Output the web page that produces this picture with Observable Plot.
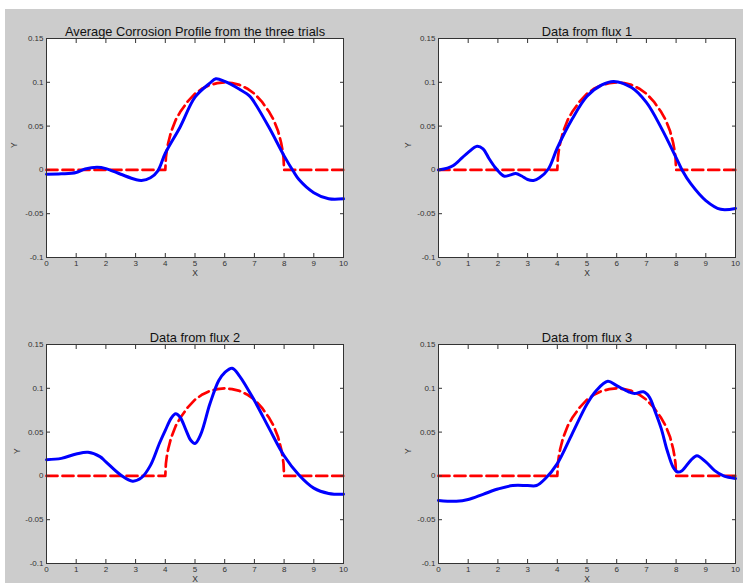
<!DOCTYPE html>
<html><head><meta charset="utf-8">
<script src="https://cdn.jsdelivr.net/npm/d3@7"></script>
<script src="https://cdn.jsdelivr.net/npm/@observablehq/plot@0.6"></script>
<style>
body{margin:0;background:#fff;}
#fig{position:relative;width:743px;height:583px;background:#fff;overflow:hidden;font-family:"Liberation Sans",Arial,sans-serif;}
#bg{position:absolute;left:5px;top:9px;right:0;bottom:0;background:#cccccc;}
.panel{position:absolute;}
.panel svg{background:transparent !important;overflow:visible;}
</style></head><body><div id="fig"><div id="bg"></div></div>
<script>
const xTicks = [0,1,2,3,4,5,6,7,8,9,10];
const yTicks = [-0.1,-0.05,0,0.05,0.1,0.15];
const titles = ["Average Corrosion Profile from the three trials","Data from flux 1","Data from flux 2","Data from flux 3"];
const xLabel = "X";
const yLabel = "Y";

// red dashed reference profile
const redX = [0,4,4.02,4.05,4.1,4.2,4.35,4.5,4.75,5,5.25,5.5,5.75,6,6.25,6.5,6.75,7,7.25,7.5,7.65,7.8,7.9,7.95,7.98,8,10];
const redY = [0,0,0.014,0.022,0.031,0.044,0.057,0.066,0.078,0.087,0.093,0.097,0.099,0.100,0.099,0.097,0.093,0.087,0.078,0.066,0.057,0.044,0.031,0.022,0.014,0,0];

// blue measured profiles
const avgX = [0,0.5,1,1.3,1.7,2,2.5,3,3.2,3.5,3.75,4,4.5,5,5.5,5.7,6,6.5,6.85,7,7.5,8,8.3,8.5,9,9.5,10];
const avgY = [-0.005,-0.0045,-0.003,0.001,0.003,0.0015,-0.005,-0.011,-0.012,-0.009,-0.001,0.019,0.049,0.083,0.099,0.104,0.101,0.092,0.084,0.077,0.048,0.016,-0.001,-0.011,-0.026,-0.033,-0.033];

const flux1X = [0,0.3,0.5,0.8,1,1.3,1.5,1.7,1.9,2,2.2,2.4,2.6,2.8,3,3.2,3.4,3.7,4,4.5,5,5.5,5.9,6.5,7,7.5,8,8.2,8.5,9,9.5,10];
const flux1Y = [0,0.002,0.005,0.014,0.02,0.027,0.024,0.013,0.003,-0.001,-0.007,-0.006,-0.004,-0.007,-0.011,-0.012,-0.009,0.001,0.025,0.058,0.084,0.097,0.101,0.094,0.077,0.048,0.014,0,-0.016,-0.035,-0.045,-0.044];

const flux2X = [0,0.5,1,1.4,1.8,2,2.5,2.9,3.2,3.5,3.8,4,4.2,4.35,4.5,4.7,4.85,5,5.2,5.5,5.8,6,6.25,6.5,7,7.5,8,8.5,9,9.5,10];
const flux2Y = [0.0185,0.020,0.025,0.027,0.022,0.016,0.001,-0.006,-0.002,0.012,0.037,0.052,0.066,0.071,0.067,0.052,0.041,0.037,0.048,0.082,0.109,0.118,0.123,0.114,0.086,0.054,0.023,0.001,-0.014,-0.020,-0.021];

const flux3X = [0,0.6,1,1.5,2,2.5,3,3.3,3.6,4,4.5,5,5.3,5.7,6,6.4,6.6,6.9,7.1,7.3,7.5,7.7,7.9,8.05,8.2,8.5,8.7,9,9.3,9.6,10];
const flux3Y = [-0.028,-0.029,-0.027,-0.021,-0.015,-0.011,-0.011,-0.011,-0.003,0.014,0.048,0.082,0.097,0.108,0.103,0.096,0.094,0.096,0.090,0.073,0.054,0.029,0.010,0.0045,0.006,0.018,0.023,0.016,0.006,0.000,-0.003];

const zip = (xs, ys) => xs.map((x, i) => ({x, y: ys[i]}));
const red = zip(redX, redY);

const panels = [
  {title: titles[0], data: zip(avgX, avgY), left: 0,   top: 0,   width: 372, height: 290, mL: 46, mR: 29, mT: 38, mB: 33, yDx: -32},
  {title: titles[1], data: zip(flux1X, flux1Y), left: 372, top: 0,   width: 371, height: 290, mL: 66, mR: 8,  mT: 38, mB: 33, yDx: -30},
  {title: titles[2], data: zip(flux2X, flux2Y), left: 0,   top: 290, width: 372, height: 293, mL: 46, mR: 29, mT: 54, mB: 20, yDx: -29},
  {title: titles[3], data: zip(flux3X, flux3Y), left: 372, top: 290, width: 371, height: 293, mL: 66, mR: 8,  mT: 54, mB: 20, yDx: -30}
];

const fig = document.getElementById("fig");
const tickColor = "#333";
for (const p of panels) {
  const chart = Plot.plot({
    width: p.width, height: p.height,
    marginLeft: p.mL, marginRight: p.mR, marginTop: p.mT, marginBottom: p.mB,
    style: {fontFamily: '"Liberation Sans", Arial, sans-serif', fontSize: "8px", color: tickColor, background: "transparent"},
    x: {domain: [0, 10], label: null},
    y: {domain: [-0.1, 0.15], label: null},
    marks: [
      Plot.frame({fill: "white", stroke: "none"}),
      Plot.line(red, {x: "x", y: "y", stroke: "#ff0000", strokeWidth: 2.7, strokeDasharray: "11,5", curve: "linear"}),
      Plot.line(p.data, {x: "x", y: "y", stroke: "#0000ff", strokeWidth: 3, curve: "catmull-rom"}),
      Plot.frame({stroke: "#333", strokeWidth: 1}),
      Plot.axisX(xTicks, {anchor: "bottom", tickSize: -4, tickFormat: () => "", label: null}),
      Plot.axisX(xTicks, {anchor: "top", tickSize: -4, tickFormat: () => "", label: null}),
      Plot.axisY(yTicks, {anchor: "left", tickSize: -4, tickFormat: () => "", label: null}),
      Plot.axisY(yTicks, {anchor: "right", tickSize: -4, tickFormat: () => "", label: null}),
      Plot.axisX(xTicks, {anchor: "bottom", tickSize: 0, tickPadding: 3, tickFormat: d => String(d), label: null, fontSize: 8}),
      Plot.axisY(yTicks, {anchor: "left", tickSize: 0, tickPadding: 3, tickFormat: d => String(d), label: null, fontSize: 8}),
      Plot.text([p.title], {frameAnchor: "top", dy: -12, fontSize: 12.8, fill: "#111", text: d => d}),
      Plot.text([xLabel], {frameAnchor: "bottom", dy: 18, fontSize: 8.5, fill: tickColor, text: d => d}),
      Plot.text([yLabel], {frameAnchor: "left", dx: p.yDx, rotate: -90, fontSize: 8.5, fill: tickColor, text: d => d})
    ]
  });
  const wrap = document.createElement("div");
  wrap.className = "panel";
  wrap.style.left = p.left + "px";
  wrap.style.top = p.top + "px";
  wrap.appendChild(chart);
  fig.appendChild(wrap);
}
</script>
</body></html>
